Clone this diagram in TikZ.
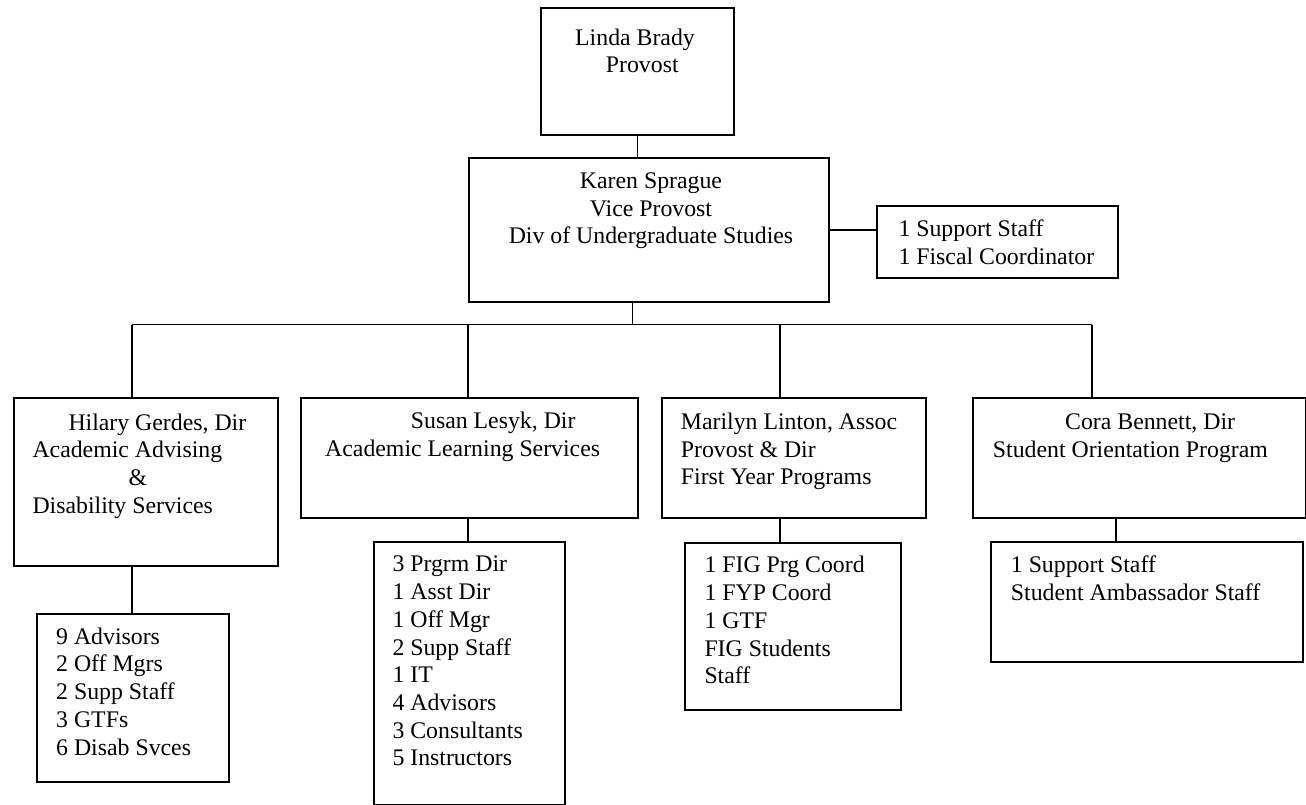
\documentclass[tikz,border=0pt]{standalone}
\usepackage{fontspec}
\setmainfont{Liberation Serif}
\usepackage{tikz}

\begin{document}
\begin{tikzpicture}[x=1pt,y=-1pt,
		box/.style={draw,line width=2pt,inner sep=0pt,anchor=north west},
		conn/.style={line width=1.7pt},
		txt/.style={anchor=north west,inner sep=0pt,align=left,yshift=19.39pt,
			font=\fontsize{23.8pt}{27.7pt}\selectfont},
		txtc/.style={txt,anchor=north,align=center}]
			\useasboundingbox (0,0) rectangle (1306,804);
			
			% top of the chart
			\node[box,minimum width=193pt,minimum height=127pt] (linda) at (540,7) {};
			\node[box,minimum width=360pt,minimum height=144pt] (karen) at (468,156.7) {};
			\node[box,minimum width=241pt,minimum height=72pt] (support) at (876,205) {};
			\node[txt] (lindaT) at (575,45) {\strut Linda Brady\\\hspace*{30.7pt}Provost};
			\node[txtc] (karenT) at (651,188.3) {\strut Karen Sprague\\Vice Provost\\Div of Undergraduate Studies};
			\node[txt] (supportT) at (898.3,236.7) {\strut 1 Support Staff\\1 Fiscal Coordinator};
			
			% directors
			\node[box,minimum width=264pt,minimum height=168pt] (hilary) at (12.6,397) {};
			\node[box,minimum width=336.5pt,minimum height=120pt] (susan) at (300,397) {};
			\node[box,minimum width=264pt,minimum height=120pt] (marilyn) at (660.5,397) {};
			\node[box,minimum width=333pt,minimum height=120pt] (cora) at (972,397) {};
			\node[txt] (hilaryT) at (32.3,430) {\strut\hspace*{36pt}Hilary Gerdes, Dir\\Academic Advising\\\hspace*{96pt}\&\\Disability Services};
			\node[txt] (susanT) at (325,428.3) {\strut\hspace*{85.7pt}Susan Lesyk, Dir\\Academic Learning Services};
			\node[txt] (marilynT) at (680.7,429.3) {\strut Marilyn Linton, Assoc\\Provost \& Dir\\First Year Programs};
			\node[txt] (coraT) at (992.7,429.3) {\strut\hspace*{72.3pt}Cora Bennett, Dir\\Student Orientation Program};
			
			% staff
			\node[box,minimum width=192.3pt,minimum height=168pt] (hilarySub) at (36,613) {};
			\node[box,minimum width=191.5pt,minimum height=263pt] (susanSub) at (372.5,541) {};
			\node[box,minimum width=215.7pt,minimum height=167pt] (marilynSub) at (684.3,541.5) {};
			\node[box,minimum width=312.3pt,minimum height=120pt] (coraSub) at (990,541) {};
			\node[txt] (hilarySubT) at (56,644) {\strut 9 Advisors\\2 Off Mgrs\\2 Supp Staff\\3 GTFs\\6 Disab Svces};
			\node[txt] (susanSubT) at (392.3,571.7) {\strut 3 Prgrm Dir\\1 Asst Dir\\1 Off Mgr\\2 Supp Staff\\1 IT\\4 Advisors\\3 Consultants\\5 Instructors};
			\node[txt] (marilynSubT) at (704.3,572.7) {\strut 1 FIG Prg Coord\\1 FYP Coord\\1 GTF\\FIG Students\\Staff};
			\node[txt] (coraSubT) at (1010.7,572.7) {\strut 1 Support Staff\\Student Ambassador Staff};
			
			% connectors
			\coordinate (kDrop) at (632.5,324.5);
			\coordinate (hDrop) at (132,324.5);
			\coordinate (sDrop) at (468,324.5);
			\coordinate (mDrop) at (780,324.5);
			\coordinate (cDrop) at (1092.3,324.5);
			\coordinate (cSub) at (1116,517);
			\draw[conn] (linda.south) -- (linda.south |- karen.north);
			\draw[conn] (karen.east) -- (karen.east -| support.west);
			\draw[conn] (kDrop |- karen.south) -- (kDrop);
			\draw[conn] (hDrop) -- (cDrop);
			\foreach \d/\b in {hDrop/hilary,sDrop/susan,mDrop/marilyn,cDrop/cora}{
				\draw[conn] (\d) -- (\d |- \b.north);
			}
			\foreach \d/\b/\s in {hDrop/hilary/hilarySub,sDrop/susan/susanSub,mDrop/marilyn/marilynSub,cSub/cora/coraSub}{
				\draw[conn] (\d |- \b.south) -- (\d |- \s.north);
			}
		\end{tikzpicture}
\end{document}
